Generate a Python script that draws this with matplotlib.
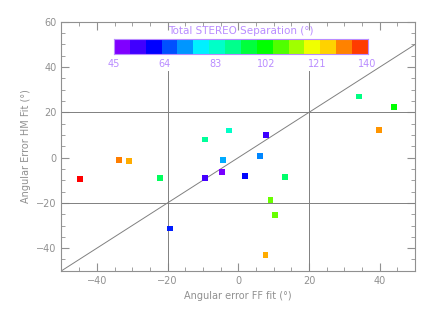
"""Angular error comparison: HM fit vs FF fit, coloured by STEREO separation."""

import matplotlib
matplotlib.use("Agg")
import matplotlib.pyplot as plt
import numpy as np
from matplotlib.colors import LinearSegmentedColormap, Normalize

# Angular errors (deg) and total STEREO separation (deg) per event
ff_error = [-44.8, -33.7, -31.0, -22.2, -9.4, -2.5, -9.3, -4.7, -4.4, 1.8,
            7.8, 6.1, 13.3, 9.1, 39.8, 44.0, 34.2, 10.5, -19.4, 7.7]
hm_error = [-9.4, -1.2, -1.5, -8.9, 8.0, 12.0, -9.1, -6.4, -1.1, -8.0,
            10.2, 0.7, -8.5, -18.8, 12.3, 22.4, 27.0, -25.3, -31.3, -43.2]
separation = [150, 134, 130, 93, 88, 83, 51, 46, 72, 58,
              52, 69, 92, 110, 132, 102, 90, 110, 60, 130]

cbar_ticks = [45, 64, 83, 102, 121, 140]
cbar_colors = [
    (128, 0, 255), (64, 0, 255), (0, 0, 255), (0, 80, 255),
    (0, 150, 255), (0, 240, 255), (0, 255, 200), (0, 255, 140),
    (0, 255, 60), (0, 255, 0), (80, 255, 0), (160, 255, 0),
    (240, 255, 0), (255, 210, 0), (255, 130, 0), (255, 60, 0),
]

gray = "#909090"
violet = "#b98cff"

cmap = LinearSegmentedColormap.from_list(
    "rainbow_idl", [tuple(c / 255 for c in rgb) for rgb in cbar_colors])
cmap.set_over("#ff0000")
norm = Normalize(vmin=cbar_ticks[0], vmax=cbar_ticks[-1])

fig = plt.figure(figsize=(4.36, 3.12), dpi=100)
ax = fig.add_axes([0.141, 0.132, 0.811, 0.798])

# reference lines
ax.plot([-50, 50], [-50, 50], color="#808080", lw=0.7)
for v in (-20, 20):
    ax.plot([v, v], [-50, 38.5], color="#808080", lw=0.7)
    ax.axhline(v, color="#808080", lw=0.7)

ax.scatter(ff_error, hm_error, c=separation, cmap=cmap, norm=norm,
           marker="s", s=18, edgecolors="none", zorder=3)

ax.set_xlim(-50, 50)
ax.set_ylim(-50, 60)
ax.set_xticks(np.arange(-40, 41, 20))
ax.set_yticks(np.arange(-40, 61, 20))
ax.set_xticks(np.arange(-50, 51, 5), minor=True)
ax.set_yticks(np.arange(-50, 61, 5), minor=True)
ax.tick_params(which="both", direction="in", top=True, right=True,
               color=gray, labelcolor=gray, labelsize=7)
ax.tick_params(which="major", length=6)
ax.tick_params(which="minor", length=3)
for sp in ax.spines.values():
    sp.set_color(gray)
ax.set_xlabel("Angular error FF fit (°)", color=gray, fontsize=7)
ax.set_ylabel("Angular Error HM Fit (°)", color=gray, fontsize=7)

# discrete colour bar inside the plot
cax = fig.add_axes([0.261, 0.827, 0.582, 0.048])
cax.imshow(np.arange(len(cbar_colors))[None, :],
           cmap=LinearSegmentedColormap.from_list(
               "bins", [tuple(c / 255 for c in rgb) for rgb in cbar_colors],
               N=len(cbar_colors)),
           aspect="auto", extent=[0, 1, 0, 1])
cax.set_xticks([])
cax.set_yticks([])
for sp in cax.spines.values():
    sp.set_color(violet)
for i, t in enumerate(cbar_ticks):
    fig.text(0.261 + 0.582 * i / (len(cbar_ticks) - 1), 0.795, str(t),
             color=violet, fontsize=7, ha="center", va="center")
fig.text(0.552, 0.902, "Total STEREO Separation (°)", color=violet,
         fontsize=7.5, ha="center", va="center")

fig.savefig("out.png", dpi=100)
